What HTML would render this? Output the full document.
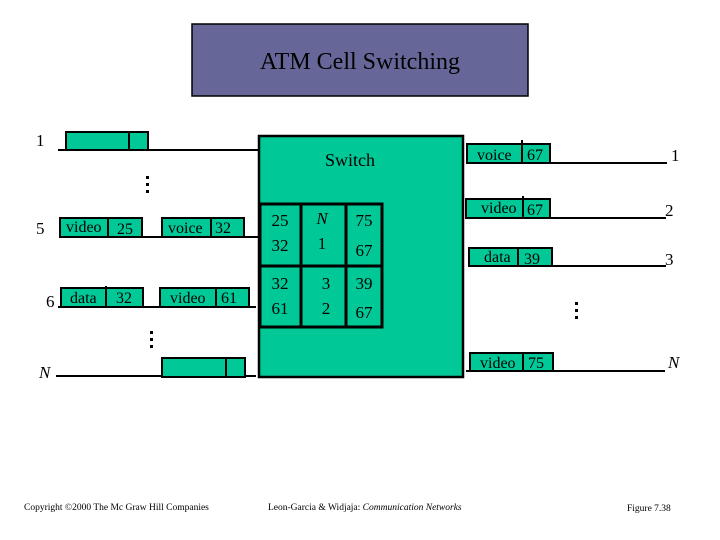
<!DOCTYPE html>
<html><head><meta charset="utf-8"><style>
html,body{margin:0;padding:0;background:#fff}
svg{display:block}
text{font-family:"Liberation Serif",serif;fill:#000}
</style></head><body>
<svg width="720" height="540" viewBox="0 0 720 540" xmlns="http://www.w3.org/2000/svg">
<rect x="192" y="24" width="336" height="72" fill="#666699" stroke="#000" stroke-width="1.5"/>
<text x="360" y="69" font-size="24" text-anchor="middle">ATM Cell Switching</text>

<g stroke="#000" stroke-width="2.5" fill="#00c896">
<rect x="259" y="136" width="204" height="241"/>
</g>
<text x="350" y="166" font-size="18" text-anchor="middle">Switch</text>
<g stroke="#000" stroke-width="3" fill="none">
<rect x="260" y="204" width="122" height="123"/>
<line x1="260" y1="266" x2="382" y2="266"/>
<line x1="301" y1="204" x2="301" y2="327"/>
<line x1="346" y1="204" x2="346" y2="327"/>
</g>
<g font-size="17" text-anchor="middle">
<text x="280" y="226">25</text><text x="280" y="251">32</text>
<text x="322" y="224" font-style="italic">N</text><text x="322" y="249">1</text>
<text x="364" y="226">75</text><text x="364" y="256">67</text>
<text x="280" y="289">32</text><text x="280" y="314">61</text>
<text x="326" y="289">3</text><text x="326" y="314">2</text>
<text x="364" y="289">39</text><text x="364" y="318">67</text>
</g>

<!-- input lines -->
<g stroke="#000" stroke-width="2">
<line x1="58" y1="150" x2="258" y2="150"/>
<line x1="60" y1="237" x2="258" y2="237"/>
<line x1="58" y1="307" x2="256" y2="307"/>
<line x1="56" y1="376" x2="256" y2="376"/>
<line x1="550" y1="163" x2="667" y2="163"/>
<line x1="466" y1="218" x2="666" y2="218"/>
<line x1="469" y1="266" x2="666" y2="266"/>
<line x1="466" y1="371" x2="665" y2="371"/>
</g>
<g stroke="#000" stroke-width="2" fill="#00c896">
<rect x="66" y="132" width="82" height="18"/><line x1="129" y1="132" x2="129" y2="150"/>
<rect x="60" y="218" width="82" height="19"/><line x1="108" y1="218" x2="108" y2="237"/>
<rect x="162" y="218" width="82" height="19"/><line x1="211" y1="218" x2="211" y2="237"/>
<rect x="61" y="288" width="82" height="19"/><line x1="106" y1="286" x2="106" y2="307"/>
<rect x="160" y="288" width="89" height="19"/><line x1="216" y1="288" x2="216" y2="307"/>
<rect x="162" y="358" width="83" height="19"/><line x1="226" y1="358" x2="226" y2="377"/>
<rect x="467" y="144" width="83" height="19"/><line x1="522" y1="140" x2="522" y2="163"/>
<rect x="466" y="199" width="84" height="19"/><line x1="523" y1="196" x2="523" y2="219"/>
<rect x="469" y="248" width="83" height="18"/><line x1="518" y1="248" x2="518" y2="266"/>
<rect x="470" y="353" width="83" height="18"/><line x1="523" y1="353" x2="523" y2="371"/>
</g>
<g font-size="16">
<text x="66" y="232">video</text><text x="117" y="234">25</text>
<text x="168" y="233">voice</text><text x="215" y="233">32</text>
<text x="70" y="303">data</text><text x="116" y="303">32</text>
<text x="170" y="303">video</text><text x="221" y="303">61</text>
<text x="477" y="160">voice</text><text x="527" y="160">67</text>
<text x="481" y="213">video</text><text x="527" y="215">67</text>
<text x="484" y="262">data</text><text x="524" y="264">39</text>
<text x="480" y="368">video</text><text x="528" y="368">75</text>
</g>
<g font-size="17">
<text x="36" y="146">1</text>
<text x="36" y="234">5</text>
<text x="46" y="307">6</text>
<text x="39" y="378" font-style="italic">N</text>
<text x="671" y="161">1</text>
<text x="665" y="216">2</text>
<text x="665" y="265">3</text>
<text x="668" y="368" font-style="italic">N</text>
</g>
<g fill="#000">
<rect x="146" y="176" width="3" height="3"/><rect x="146" y="183" width="3" height="3"/><rect x="146" y="190" width="3" height="3"/>
<rect x="150" y="331" width="3" height="3"/><rect x="150" y="338" width="3" height="3"/><rect x="150" y="345" width="3" height="3"/>
<rect x="575" y="302" width="3" height="3"/><rect x="575" y="309" width="3" height="3"/><rect x="575" y="316" width="3" height="3"/>
</g>
<g font-size="9.5">
<text x="24" y="510">Copyright ©2000 The Mc Graw Hill Companies</text>
<text x="268" y="510">Leon-Garcia &amp; Widjaja:  <tspan font-style="italic">Communication Networks</tspan></text>
<text x="627" y="511">Figure 7.38</text>
</g>
</svg>
</body></html>
